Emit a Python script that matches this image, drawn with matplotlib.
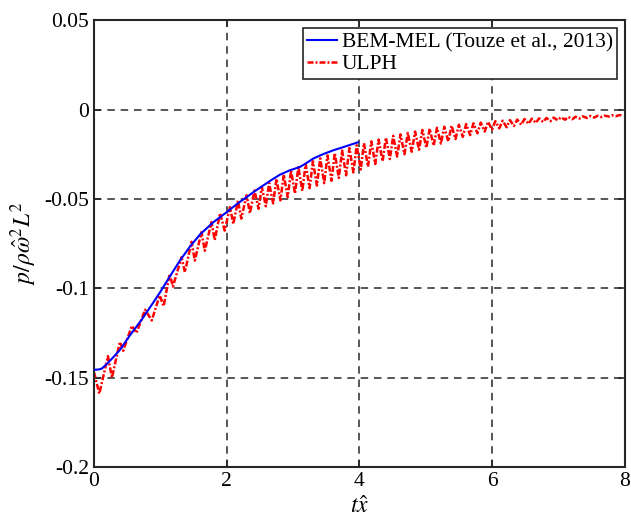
import numpy as np
import matplotlib
matplotlib.use('Agg')
import matplotlib.pyplot as plt

plt.rcParams['font.family'] = ['Liberation Serif', 'DejaVu Serif']
plt.rcParams['mathtext.fontset'] = 'stix'
plt.rcParams['axes.unicode_minus'] = False

# BEM-MEL reference curve
bem_t = [0.0, 0.06, 0.115, 0.19, 0.28, 0.39, 0.54, 0.72, 0.92, 1.0, 1.15, 1.295,
         1.45, 1.60, 1.80, 2.0, 2.15, 2.30, 2.45, 2.65, 2.80, 2.95, 3.10, 3.20,
         3.30, 3.45, 3.60, 3.80, 3.98]
bem_p = [-0.1456, -0.1455, -0.145, -0.1425, -0.139, -0.1345, -0.1264, -0.1175,
         -0.1065, -0.1020, -0.0930, -0.0845, -0.0765, -0.0698, -0.0630, -0.0574,
         -0.0530, -0.0490, -0.0450, -0.0400, -0.0365, -0.0340, -0.0322, -0.0300,
         -0.0275, -0.0250, -0.0229, -0.0205, -0.0183]

# ULPH: local maxima / minima of the oscillating signal
ulph_peak_t = [0.00, 0.21, 0.39, 0.57, 0.77, 0.99, 1.14, 1.32, 1.47, 1.62, 1.77,
               1.90, 2.05, 2.17, 2.30, 2.42,
               2.53, 2.64, 2.75, 2.86, 2.97, 3.08, 3.19, 3.30, 3.41, 3.52, 3.63,
               3.74, 3.85, 3.96, 4.07, 4.18, 4.29, 4.40, 4.51, 4.62, 4.73, 4.84,
               4.95, 5.06, 5.17, 5.28, 5.39, 5.50, 5.61, 5.72, 5.83, 5.94, 6.05,
               6.16, 6.27, 6.38, 6.49, 6.60, 6.71, 6.82, 6.93, 7.04, 7.15, 7.26,
               7.37, 7.48, 7.59, 7.70, 7.81, 7.92]
ulph_peak_p = [-0.147, -0.138, -0.130, -0.121, -0.112, -0.104, -0.092, -0.0826,
               -0.074, -0.0686, -0.063, -0.058, -0.0546, -0.051, -0.048, -0.0453,
               -0.0434, -0.0411, -0.0388, -0.0364, -0.0341, -0.0322, -0.0305,
               -0.0289, -0.0273, -0.0257, -0.0243, -0.0229, -0.0215, -0.0200,
               -0.0188, -0.0178, -0.0168, -0.0157, -0.0147, -0.0139, -0.0131,
               -0.0123, -0.0114, -0.0107, -0.0102, -0.0096, -0.0090, -0.0085,
               -0.0081, -0.0077, -0.0073, -0.0068, -0.0065, -0.0062, -0.0059,
               -0.0056, -0.0053, -0.0051, -0.0049, -0.0047, -0.0045, -0.0043,
               -0.0041, -0.0040, -0.0038, -0.0036, -0.0035, -0.0034, -0.0032,
               -0.0031]
ulph_trough_t = [0.08, 0.27, 0.44, 0.64, 0.87, 1.05, 1.19, 1.37, 1.52, 1.67, 1.82,
                 1.97, 2.10, 2.22, 2.35, 2.48,
                 2.59, 2.70, 2.81, 2.92, 3.03, 3.14, 3.25, 3.36, 3.47, 3.58, 3.69,
                 3.80, 3.91, 4.02, 4.13, 4.24, 4.35, 4.46, 4.57, 4.68, 4.79, 4.90,
                 5.01, 5.12, 5.23, 5.34, 5.45, 5.56, 5.67, 5.78, 5.89, 6.00, 6.11,
                 6.22, 6.33, 6.44, 6.55, 6.66, 6.77, 6.88, 6.99, 7.10, 7.21, 7.32,
                 7.43, 7.54, 7.65, 7.76, 7.87, 7.98]
ulph_trough_p = [-0.159, -0.150, -0.135, -0.125, -0.118, -0.110, -0.099, -0.091,
                 -0.0845, -0.079, -0.073, -0.0677, -0.064, -0.061, -0.058, -0.0555,
                 -0.0541, -0.0525, -0.0508, -0.0490, -0.0470, -0.0455, -0.0440,
                 -0.0425, -0.0412, -0.0398, -0.0383, -0.0368, -0.0352, -0.0335,
                 -0.0320, -0.0305, -0.0290, -0.0277, -0.0263, -0.0250, -0.0236,
                 -0.0225, -0.0214, -0.0202, -0.0190, -0.0178, -0.0165, -0.0153,
                 -0.0143, -0.0133, -0.0123, -0.0112, -0.0105, -0.0099, -0.0092,
                 -0.0085, -0.0080, -0.0075, -0.0070, -0.0065, -0.0060, -0.0057,
                 -0.0054, -0.0050, -0.0047, -0.0045, -0.0042, -0.0039, -0.0037,
                 -0.0034]

xticks = [0, 2, 4, 6, 8]
yticks = [-0.2, -0.15, -0.1, -0.05, 0, 0.05]
ytick_labels = ['-0.2', '-0.15', '-0.1', '-0.05', '0', '0.05']

ut = np.array(ulph_peak_t + ulph_trough_t)
up = np.array(ulph_peak_p + ulph_trough_p)
order = np.argsort(ut)
ut, up = ut[order], up[order]

fig = plt.figure(figsize=(6.31, 5.18), dpi=100)
ax = fig.add_axes([0.149, 0.0985, 0.841, 0.8625])

ax.plot(bem_t, bem_p, color='b', lw=1.5, label='BEM-MEL (Touze et al., 2013)', zorder=3)
ax.plot(ut, up, color='r', lw=1.8, ls=(0, (2.4, 0.8, 0.8, 0.8)), label='ULPH', zorder=2)

ax.set_xlim(0, 8)
ax.set_ylim(-0.2, 0.05)
ax.set_xticks(xticks)
ax.set_xticklabels([str(v) for v in xticks])
ax.set_yticks(yticks)
ax.set_yticklabels(ytick_labels)
ax.tick_params(direction='in', labelsize=15.5, top=True, right=True, length=5,
               width=1.2, colors='#262626')
for lab in ax.get_xticklabels() + ax.get_yticklabels():
    lab.set_color('black')
for s in ax.spines.values():
    s.set_linewidth(1.5)
    s.set_color('#262626')

ax.grid(True, color='#3a3a3a', ls=(0, (4.5, 3.5)), lw=1.2)

ax.set_xlabel(r'$t\hat{x}$', fontsize=17, labelpad=4)
ax.set_ylabel(r'$p/\rho\hat{\omega}^2L^2$', fontsize=17, labelpad=4)

leg = ax.legend(loc='upper right', fontsize=15.5, handlelength=1.4, handletextpad=0.2,
                borderpad=0.2, labelspacing=0.1, borderaxespad=0.35, fancybox=False,
                framealpha=1, edgecolor='#262626')
leg.get_frame().set_linewidth(1.2)

plt.savefig('out.png', dpi=100)
